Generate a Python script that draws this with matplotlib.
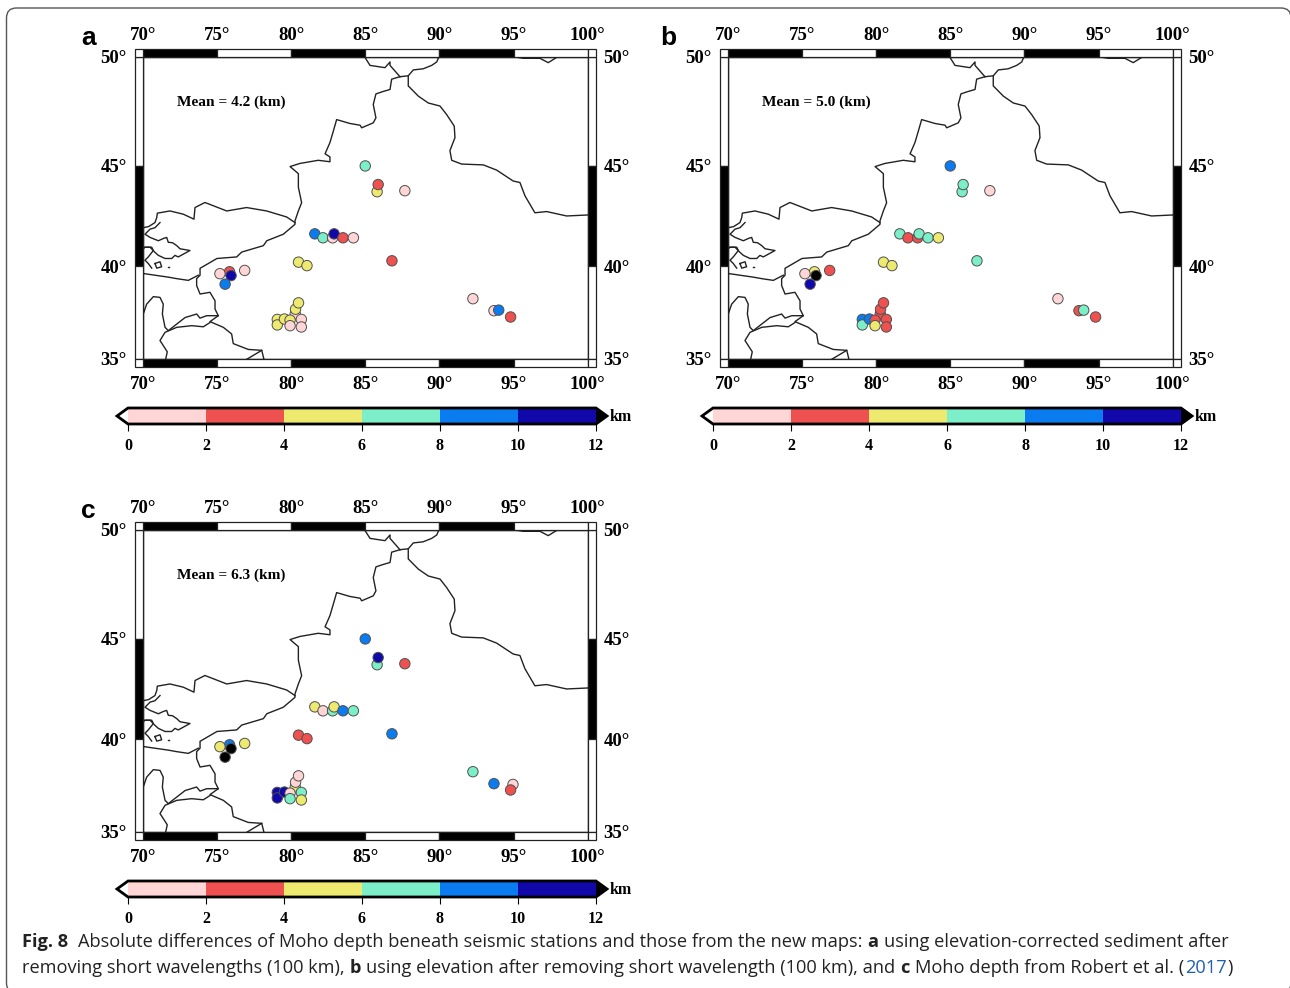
# Moho depth differences, three map panels with a shared station list
import numpy as np
import matplotlib
matplotlib.use('Agg')
import matplotlib.pyplot as plt
from matplotlib.colors import ListedColormap, BoundaryNorm
from matplotlib.cm import ScalarMappable
from matplotlib.patches import Rectangle, FancyBboxPatch
from matplotlib.transforms import ScaledTranslation, IdentityTransform

# stations, drawn in this order
station_lon = [85.0, 85.8, 85.87, 87.67,
               81.6, 82.15, 82.8, 82.9, 83.5, 84.2,
               80.5, 81.07, 86.8,
               75.85, 75.2, 75.95, 76.87, 75.55,
               80.28, 80.3, 80.5, 79.07, 79.07, 79.55, 79.93, 79.93, 80.69, 80.69,
               92.26, 93.68, 94.0, 94.96, 94.8]
station_lat = [45.0, 43.75, 44.1, 43.8,
               41.65, 41.45, 41.45, 41.65, 41.45, 41.45,
               40.2, 40.02, 40.27,
               39.7, 39.6, 39.5, 39.77, 39.05,
               37.46, 37.72, 38.06, 37.17, 36.87, 37.19, 37.13, 36.83, 37.17, 36.76,
               38.28, 37.64, 37.67, 37.6, 37.3]

# difference classes (km)
nan = float('nan')
diff_a = [7, 5, 3, 1,
          9, 7, 1, 11, 3, 1,
          5, 5, 3,
          3, 1, 11, 1, 9,
          1, 5, 5, 5, 5, 5, 5, 1, 1, 1,
          1, 1, 9, nan, 3]
diff_b = [9, 7, 7, 1,
          7, 3, 3, 7, 7, 5,
          5, 5, 7,
          5, 1, 13, 3, 11,
          3, 3, 3, 9, 7, 9, 3, 5, 3, 3,
          1, 3, 7, nan, 3]
diff_c = [9, 7, 11, 3,
          5, 1, 7, 5, 9, 7,
          3, 3, 9,
          9, 5, 13, 5, 13,
          5, 1, 1, 11, 11, 11, 1, 7, 7, 5,
          7, 9, nan, 1, 3]
mean_labels = ['Mean = 4.2 (km)', 'Mean = 5.0 (km)', 'Mean = 6.3 (km)']
panel_letters = ['a', 'b', 'c']

levels = [0, 2, 4, 6, 8, 10, 12]
class_colors = ['#FFD5D5', '#EF5050', '#EEEA70', '#7CEEC8', '#0A7CF0', '#1008A8']
lon_ticks = [70, 75, 80, 85, 90, 95, 100]
lat_ticks = [35, 40, 45, 50]

# border lines as (lon, lat) lists
borders = [
    # kazakhstan - china, then down the kyrgyz and tajik side
    [(87.34, 49.12), (86.78, 49.01), (86.67, 48.55), (86.11, 48.44), (85.72, 48.35), (85.54, 47.87),
     (85.72, 47.26), (85.54, 47.03), (84.76, 46.8), (84.65, 46.92), (83.97, 47.0), (83.07, 47.18),
     (82.85, 46.65), (82.62, 46.11), (82.29, 45.58), (82.62, 45.43), (82.62, 45.2), (81.83, 45.27),
     (80.6, 45.12), (79.93, 44.97), (80.49, 44.63), (80.49, 43.97), (80.71, 43.21), (80.49, 42.8),
     (80.26, 42.3), (80.26, 42.13), (79.47, 41.63), (78.36, 41.3), (78.13, 41.05), (76.67, 40.72),
     (76.33, 40.47), (75.0, 40.39), (73.86, 39.88), (73.86, 39.52), (73.63, 39.34), (73.63, 38.98),
     (73.86, 38.53), (74.53, 38.62), (74.87, 38.17), (74.87, 37.73), (75.09, 37.37), (74.53, 37.05),
     (75.43, 36.74), (75.99, 36.38), (76.1, 35.85), (77.11, 35.53), (78.02, 35.48), (78.17, 34.98)],
    [(77.0, 34.98), (78.02, 35.48)],
    # afghan corridor
    [(70.03, 37.46), (70.26, 37.99), (70.71, 38.39), (71.16, 38.35), (71.38, 37.99), (71.32, 37.46),
     (71.5, 36.74), (71.72, 36.56), (72.29, 36.92), (72.85, 37.27), (73.63, 37.46), (73.86, 37.24),
     (74.31, 37.37), (75.09, 37.37)],
    [(71.54, 34.98), (71.65, 35.4), (71.16, 36.02), (71.5, 36.47), (72.29, 36.74), (73.3, 36.83),
     (74.08, 36.77), (74.53, 37.0)],
    # kazakhstan - kyrgyzstan
    [(80.26, 42.22), (79.7, 42.5), (78.35, 42.8), (77.0, 42.97), (75.66, 42.8), (74.19, 43.22),
     (73.52, 42.97), (73.45, 42.39), (72.73, 42.64), (71.83, 42.8), (70.98, 42.69), (70.94, 42.47),
     (70.82, 42.22), (70.4, 42.02), (70.03, 41.96)],
    [(71.16, 42.22), (70.82, 41.96), (70.49, 41.89), (70.15, 41.63), (70.49, 41.47), (71.05, 41.3),
     (71.4, 41.42), (71.61, 41.47), (71.72, 41.22), (72.0, 41.2), (72.29, 41.05), (72.51, 40.89),
     (73.18, 40.8), (72.39, 40.47), (72.17, 40.55), (71.95, 40.39), (71.5, 40.39), (71.05, 40.55),
     (70.8, 40.72), (70.49, 40.97), (70.15, 40.97), (70.03, 40.89)],
    # tajikistan lobe and enclaves
    [(70.15, 40.97), (70.6, 40.97), (70.71, 40.8), (70.37, 40.47), (70.15, 40.3), (70.37, 40.13),
     (70.6, 39.89)],
    [(70.82, 40.13), (71.16, 40.22), (71.27, 39.96), (70.94, 39.89), (70.82, 40.13)],
    [(71.68, 39.97), (71.78, 39.97)],
    [(70.03, 39.61), (70.82, 39.52), (71.72, 39.42), (72.29, 39.34), (73.07, 39.25), (73.74, 39.52)],
    # north end
    [(87.34, 49.12), (86.67, 49.62), (86.67, 49.77), (86.33, 49.52), (85.32, 49.62), (84.98, 49.97),
     (84.9, 50.1)],
    [(87.34, 49.12), (87.9, 49.16), (88.24, 49.42), (88.91, 49.47), (89.48, 49.62), (89.82, 49.77),
     (89.97, 50.0)],
    # mongolia
    [(87.9, 49.16), (87.9, 48.71), (88.58, 48.25), (89.25, 47.94), (90.04, 47.8), (90.49, 47.41),
     (91.0, 46.88), (91.05, 46.34), (90.71, 45.73), (90.83, 45.27), (91.5, 45.09), (92.96, 45.05),
     (93.86, 44.8), (94.98, 44.27), (95.43, 44.2), (95.77, 43.55), (96.44, 42.71), (97.23, 42.77),
     (98.58, 42.55), (100.0, 42.6)],
    [(94.98, 50.0), (95.66, 49.93), (96.78, 49.93), (97.34, 49.74), (97.91, 49.97)],
]

W, H = 1290, 988
SERIF = 'Liberation Serif'
CAPTION = 'Open Sans'
LETTER = 'Liberation Sans'

cmap = ListedColormap(class_colors)
cmap.set_under('white')
cmap.set_over('black')
cmap.set_bad('none')
norm = BoundaryNorm(levels, cmap.N)


def merc(lat):
    lat = np.asarray(lat, dtype=float)
    return np.log(np.tan(np.pi / 4 + np.radians(lat) / 2))


def inv_merc(y):
    y = np.asarray(y, dtype=float)
    return np.degrees(2 * np.arctan(np.exp(y)) - np.pi / 2)


def px_axes(x0, y0, x1, y1):
    # axes from pixel box, y measured from the top
    return fig.add_axes([x0 / W, 1 - y1 / H, (x1 - x0) / W, (y1 - y0) / H])


def draw_strips(ax):
    # checker frame round the map, 8 px thick
    tx = ax.get_xaxis_transform()
    ty = ax.get_yaxis_transform()
    th = 8.0 / 302.3
    tw = 8.0 / 444.9
    for i in range(6):
        col = 'black' if i % 2 == 0 else 'white'
        x0 = lon_ticks[i]
        for y0 in (-th, 1):
            ax.add_patch(Rectangle((x0, y0), 5, th, transform=tx, fc=col, ec='#222222', lw=0.9,
                                   clip_on=False, zorder=5))
    for i in range(3):
        col = 'white' if i % 2 == 0 else 'black'
        lat1 = lat_ticks[3 - i]
        lat0 = lat_ticks[2 - i]
        for x0 in (-tw, 1):
            ax.add_patch(Rectangle((x0, lat0), tw, lat1 - lat0, transform=ty, fc=col, ec='#222222', lw=0.9,
                                   clip_on=False, zorder=5))
    for x0 in (-tw, 1):
        for y0 in (-th, 1):
            ax.add_patch(Rectangle((x0, y0), tw, th, transform=ax.transAxes, fc='white', ec='#222222', lw=0.9,
                                   clip_on=False, zorder=5))


def draw_panel(dx, dy, diffs, mean_label, letter):
    ax = px_axes(142.8 + dx, 56.7 + dy, 587.7 + dx, 359.0 + dy)
    ax.set_yscale('function', functions=(merc, inv_merc))
    ax.set_xlim(70, 100)
    ax.set_ylim(35, 50)

    for line in borders:
        ax.plot([p[0] for p in line], [p[1] for p in line], color='#222222', lw=1.0, zorder=2)
    ax.scatter(station_lon, station_lat, c=diffs, cmap=cmap, norm=norm, s=56,
               edgecolors='#505050', linewidths=0.7, zorder=3)

    ax.set_xticks(lon_ticks)
    ax.set_xticklabels([f'{v}°' for v in lon_ticks], family=SERIF, fontweight='bold', fontsize=13.5)
    ax.set_yticks(lat_ticks)
    ax.set_yticklabels([f'{v}°' for v in lat_ticks], family=SERIF, fontweight='bold', fontsize=13.5)
    ax.minorticks_off()
    ax.tick_params(axis='x', length=0, pad=9.5, top=False, bottom=False, labeltop=True, labelbottom=True)
    ax.tick_params(axis='y', length=0, pad=11.5, left=False, right=False, labelleft=True, labelright=True)
    # bottom labels sit a little lower than the pad alone gives
    shift = ScaledTranslation(0, -4 / 100, fig.dpi_scale_trans)
    for tick in ax.xaxis.get_major_ticks():
        tick.label1.set_transform(tick.label1.get_transform() + shift)
    for s in ax.spines.values():
        s.set_linewidth(1.0)
    draw_strips(ax)

    fig.text((177 + dx) / W, 1 - (102 + dy) / H, mean_label, family=SERIF, fontweight='bold',
             fontsize=11.1, va='center', ha='left')
    fig.text((81 + dx if letter != 'b' else 660) / W, 1 - (38 + dy) / H, letter, family=LETTER,
             fontweight='bold', fontsize=19, va='center', ha='left')

    # colour scale under the map
    cax = px_axes(117 + dx, 408 + dy, 607 + dx, 424 + dy)
    cb = fig.colorbar(ScalarMappable(norm=norm, cmap=cmap), cax=cax, orientation='horizontal',
                      extend='both', extendfrac=11 / 468, spacing='proportional', ticks=levels)
    cb.outline.set_linewidth(2.0)
    cb.outline.set_edgecolor('black')
    cb.dividers.set_visible(False)
    cb.ax.tick_params(axis='x', length=5, width=0.8, pad=5, labelsize=11.5)
    for t in cb.ax.get_xticklabels():
        t.set_family(SERIF)
        t.set_fontweight('bold')
    fig.text((610 + dx) / W, 1 - (417 + dy) / H, 'km', family=SERIF, fontweight='bold', fontsize=11.5,
             va='center', ha='left')


def text_runs(x, y, runs, size=13.15):
    # caption line with bold words and one link, placed run after run
    rend = fig.canvas.get_renderer()
    for txt, weight, col, gap in runs:
        t = fig.text(x / W, 1 - y / H, txt, family=CAPTION, fontweight=weight, color=col, fontsize=size,
                     va='baseline', ha='left')
        x = t.get_window_extent(rend).x1 + gap


fig = plt.figure(figsize=(W / 100, H / 100), dpi=100)

# page frame of the journal figure box in pixels, runs off the right and bottom edges
fig.add_artist(FancyBboxPatch((6.5, H - 993), 1284.5, 985,
                              boxstyle='round,pad=0,rounding_size=10', transform=IdentityTransform(),
                              fc='none', ec='#555555', lw=1.0))

draw_panel(0, 0, diff_a, mean_labels[0], panel_letters[0])
draw_panel(585, 0, diff_b, mean_labels[1], panel_letters[1])
draw_panel(0, 473, diff_c, mean_labels[2], panel_letters[2])

ink = '#222222'
text_runs(22, 947, [('Fig. 8', 'bold', ink, 10),
                    ('Absolute differences of Moho depth beneath seismic stations and those from the new maps:',
                     'normal', ink, 5),
                    ('a', 'bold', ink, 5),
                    ('using elevation-corrected sediment after', 'normal', ink, 0)])
text_runs(22, 973, [('removing short wavelengths (100 km),', 'normal', ink, 5),
                    ('b', 'bold', ink, 5),
                    ('using elevation after removing short wavelength (100 km), and', 'normal', ink, 5),
                    ('c', 'bold', ink, 5),
                    ('Moho depth from Robert et al. (', 'normal', ink, 1),
                    ('2017', 'normal', '#1F5FB0', 1),
                    (')', 'normal', ink, 0)])

fig.savefig('out.png', dpi=100)
print('Job Done')
